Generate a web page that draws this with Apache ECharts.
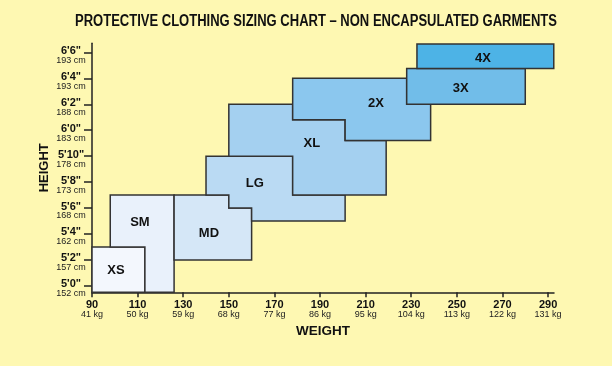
<!DOCTYPE html>
<html><head><meta charset="utf-8">
<script src="https://cdn.jsdelivr.net/npm/echarts@6/dist/echarts.min.js"></script>
<style>html,body{margin:0;padding:0;background:#FEF8B2}#c{width:612px;height:366px}</style>
</head><body><div id="c"></div>
<script>
// Sizes and their region outlines as [weight lb, height in]
const sizes = ['XS', 'SM', 'MD', 'LG', 'XL', '2X', '3X', '4X'];
const xsOutline = [[90, 59.5], [113.2, 59.5], [113.2, 63], [90, 63]];
const smOutline = [[113.2, 59.5], [126, 59.5], [126, 67], [98, 67], [98, 63], [113.2, 63]];
const mdOutline = [[126, 62], [160, 62], [160, 66], [150, 66], [150, 67], [126, 67]];
const lgOutline = [[160, 65], [201, 65], [201, 67], [178, 67], [178, 70], [140, 70], [140, 67], [150, 67], [150, 66], [160, 66]];
const xlOutline = [[178, 67], [219, 67], [219, 71.2], [201, 71.2], [201, 72.8], [178, 72.8], [178, 74], [150, 74], [150, 70], [178, 70]];
const x2Outline = [[178, 72.8], [201, 72.8], [201, 71.2], [238.5, 71.2], [238.5, 74], [228, 74], [228, 76], [178, 76]];
const x3Outline = [[228, 74], [280, 74], [280, 76.75], [228, 76.75]];
const x4Outline = [[232.5, 76.75], [292.5, 76.75], [292.5, 78.65], [232.5, 78.65]];
const outlines = [xsOutline, smOutline, mdOutline, lgOutline, xlOutline, x2Outline, x3Outline, x4Outline];
// label anchor points
const labelWeight = [100.5, 111.0, 141.3, 161.4, 186.4, 214.5, 251.7, 261.4];
const labelHeight = [61.2, 64.9, 64.05, 67.9, 71.0, 74.1, 75.25, 77.55];
// axis ticks
const weightTicks = [90, 110, 130, 150, 170, 190, 210, 230, 250, 270, 290];
const weightKg = ['41 kg', '50 kg', '59 kg', '68 kg', '77 kg', '86 kg', '95 kg', '104 kg', '113 kg', '122 kg', '131 kg'];
const heightTicks = [60, 62, 64, 66, 68, 70, 72, 74, 76, 78];
const heightFt = ['5\'0"', '5\'2"', '5\'4"', '5\'6"', '5\'8"', '5\'10"', '6\'0"', '6\'2"', '6\'4"', '6\'6"'];
const heightCm = ['152 cm', '157 cm', '162 cm', '168 cm', '173 cm', '178 cm', '183 cm', '188 cm', '193 cm', '193 cm'];
const titleText = 'PROTECTIVE CLOTHING SIZING CHART \u2013 NON ENCAPSULATED GARMENTS';

const fills = ['#F3F7FD', '#E9F1FB', '#D5E7F7', '#BADAF3', '#A4D0F0', '#8BC7EE', '#71BDE9', '#4DB3E6'];
const FONT = '"Liberation Sans", Arial, Helvetica, sans-serif';
const TITLE_FONT = 'bold 16px "Liberation Sans", Arial, sans-serif';
const axisColor = '#222';

// condense the title to the reference's width
const mctx = document.createElement('canvas').getContext('2d');
mctx.font = TITLE_FONT;
const titleScale = 482 / mctx.measureText(titleText).width;

const chart = echarts.init(document.getElementById('c'), null, {renderer: 'canvas'});
chart.setOption({
  backgroundColor: '#FEF8B2',
  animation: false,
  graphic: [{
    type: 'text', x: 316, y: 22, scaleX: titleScale,
    style: {text: titleText, fill: '#111', font: TITLE_FONT, align: 'center', verticalAlign: 'middle'}
  }],
  grid: {left: 92, right: 58, top: 43.3, bottom: 73.7},
  xAxis: {
    type: 'value', min: 90, max: 292.6,
    name: 'WEIGHT', nameLocation: 'middle', nameGap: 32, nameMoveOverlap: false,
    nameTextStyle: {color: '#111', fontWeight: 'bold', fontSize: 13.5, fontFamily: FONT},
    axisLine: {lineStyle: {color: axisColor, width: 1.5}},
    axisTick: {customValues: weightTicks, length: 5, lineStyle: {color: axisColor, width: 1.5}},
    splitLine: {show: false},
    axisLabel: {
      customValues: weightTicks, margin: 8,
      formatter: v => { const i = weightTicks.indexOf(v); return '{b|' + v + '}\n{s|' + weightKg[i] + '}'; },
      rich: {
        b: {fontWeight: 'bold', fontSize: 11, lineHeight: 10, color: '#111', fontFamily: FONT},
        s: {fontSize: 9, lineHeight: 9, color: '#222', fontFamily: FONT}
      }
    }
  },
  yAxis: {
    type: 'value', min: 59.5, max: 78.7,
    name: 'HEIGHT', nameLocation: 'middle', nameGap: 41, nameMoveOverlap: false,
    nameTextStyle: {color: '#111', fontWeight: 'bold', fontSize: 13, fontFamily: FONT},
    axisLine: {lineStyle: {color: axisColor, width: 1.5}},
    axisTick: {customValues: heightTicks, length: 8, lineStyle: {color: axisColor, width: 1.5}},
    splitLine: {show: false},
    axisLabel: {
      customValues: heightTicks, margin: 21, align: 'center', padding: [6, 0, 0, 0],
      formatter: v => { const i = heightTicks.indexOf(v); return '{b|' + heightFt[i] + '}\n{s|' + heightCm[i] + '}'; },
      rich: {
        b: {fontWeight: 'bold', fontSize: 11, lineHeight: 10, color: '#111', fontFamily: FONT, align: 'center'},
        s: {fontSize: 9, lineHeight: 9, color: '#222', fontFamily: FONT, align: 'center'}
      }
    }
  },
  series: [{
    type: 'custom',
    clip: false,
    data: sizes.map((s, i) => [labelWeight[i], labelHeight[i]]),
    encode: {x: 0, y: 1},
    renderItem: (params, api) => {
      const i = params.dataIndex;
      const pts = outlines[i].map(p => api.coord(p));
      const c = api.coord([labelWeight[i], labelHeight[i]]);
      return {type: 'group', children: [
        {type: 'polygon', shape: {points: pts}, style: {fill: fills[i], stroke: '#333', lineWidth: 1.5}},
        {type: 'text', x: c[0], y: c[1], z2: 10, style: {text: sizes[i], fill: '#111', font: 'bold 13px ' + FONT, align: 'center', verticalAlign: 'middle'}}
      ]};
    }
  }]
});
</script></body></html>
